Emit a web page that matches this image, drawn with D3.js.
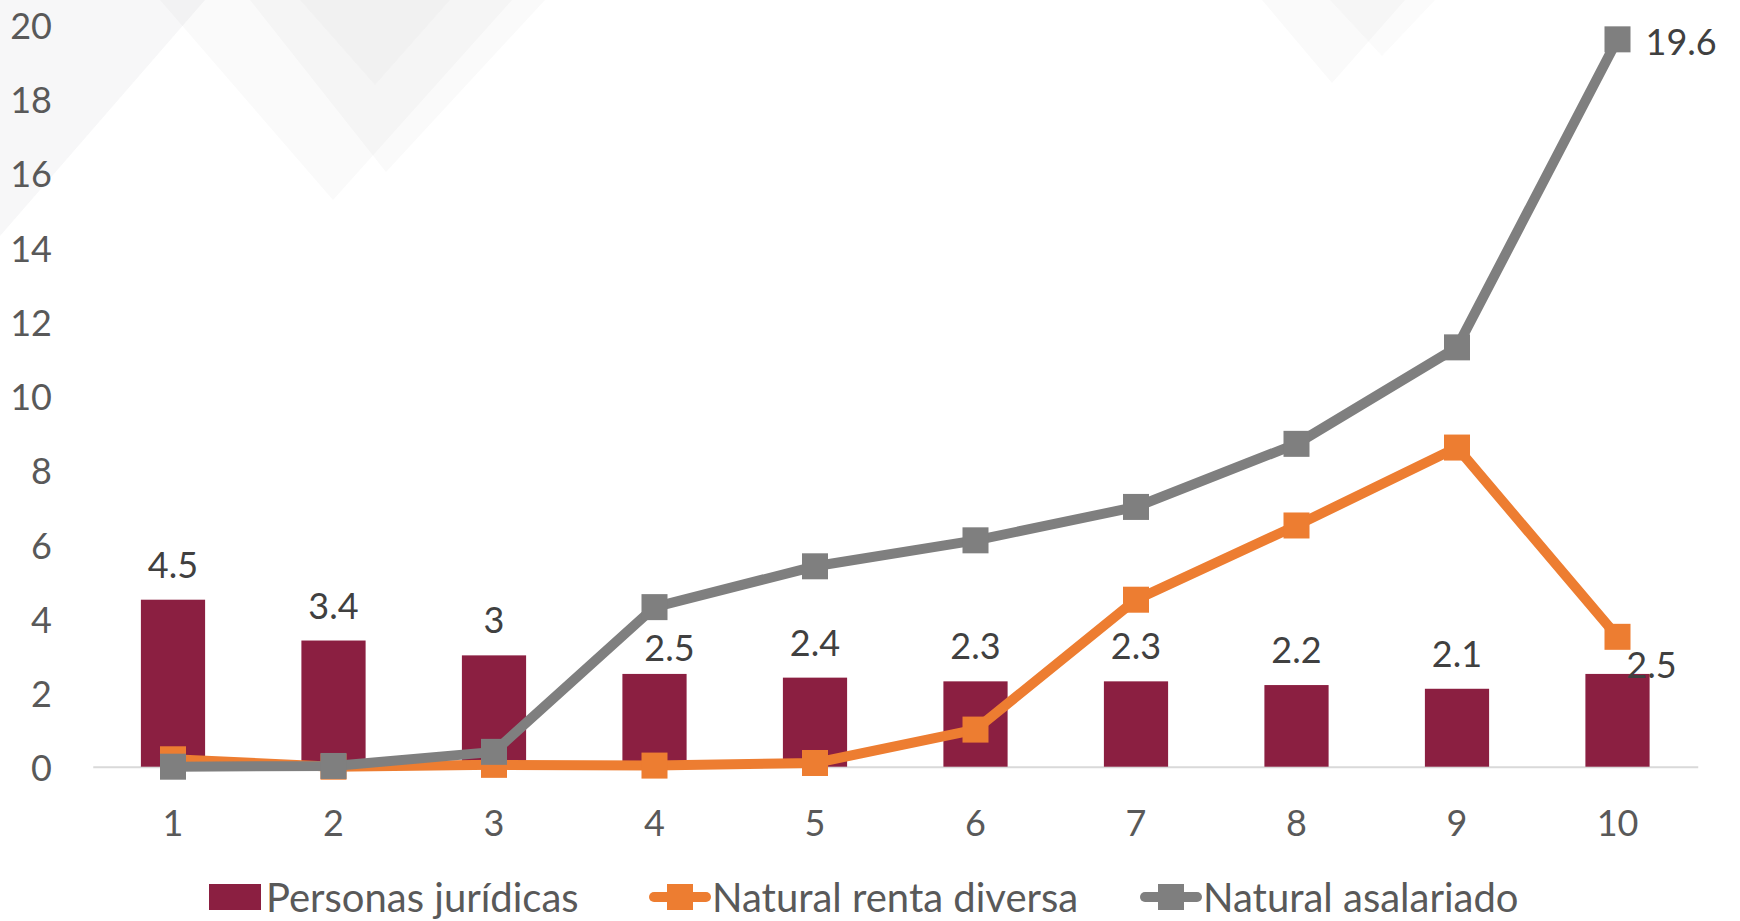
<!DOCTYPE html>
<html>
<head>
<meta charset="utf-8">
<script src="https://cdn.jsdelivr.net/npm/d3@7"></script>
<style>
  html, body { margin: 0; padding: 0; background: #ffffff; }
  svg { display: block; }
  text { font-family: Lato, "Open Sans", sans-serif; }
</style>
</head>
<body>
<svg id="chart" width="1740" height="921"></svg>
<script>
// ---------------- data ----------------
const categories = ["1", "2", "3", "4", "5", "6", "7", "8", "9", "10"];
const personasJuridicas = [4.5, 3.4, 3.0, 2.5, 2.4, 2.3, 2.3, 2.2, 2.1, 2.5];
const naturalRentaDiversa = [0.2, 0.0, 0.05, 0.03, 0.1, 1.0, 4.5, 6.5, 8.6, 3.5];
const naturalAsalariado = [0.0, 0.02, 0.4, 4.3, 5.4, 6.1, 7.0, 8.7, 11.3, 19.6];
const yTicks = [0, 2, 4, 6, 8, 10, 12, 14, 16, 18, 20];
const seriesNames = ["Personas jurídicas", "Natural renta diversa", "Natural asalariado"];
const asalariadoLabelIndex = [9];

// ---------------- style ----------------
const colBar = "#8B1F41", colOrange = "#ED7D31", colGray = "#7F7F7F";
const colAxisText = "#595959", colLabel = "#404040";
const fontSize = 36, legendFontSize = 40;
const labelNudge = { 3: [15, 9], 9: [34, 26] }; // manual nudges of bar labels

const svg = d3.select("#chart");

// faint decorative watermark chevrons
const wm = svg.append("g");
const wmShapes = [
  { pts: [[0,0],[205,0],[0,236]], o: 0.035 },
  { pts: [[160,0],[333,200],[512,0]], o: 0.022 },
  { pts: [[250,0],[386,172],[545,0]], o: 0.022 },
  { pts: [[300,0],[375,85],[450,0]], o: 0.02 },
  { pts: [[1262,0],[1332,83],[1405,0]], o: 0.025 },
  { pts: [[1330,0],[1382,56],[1435,0]], o: 0.02 }
];
wmShapes.forEach(s => {
  wm.append("polygon")
    .attr("points", s.pts.map(p => p.join(",")).join(" "))
    .attr("fill", "#1a1a33").attr("fill-opacity", s.o);
});

// ---------------- scales ----------------
const x = d3.scaleBand().domain(categories).range([92.75, 1697.75])
  .paddingInner(0.6).paddingOuter(0.3);
const y = d3.scaleLinear().domain([0, 20]).range([766.7, 24.5]);
const cx = c => x(c) + x.bandwidth() / 2;

// ---------------- axes ----------------
const yAxis = svg.append("g").attr("transform", "translate(52,0)")
  .call(d3.axisLeft(y).tickValues(yTicks).tickSize(0).tickPadding(0).tickFormat(d3.format("d")));
yAxis.select(".domain").remove();
yAxis.selectAll("text")
  .attr("font-size", fontSize).attr("font-family", "Lato, sans-serif")
  .attr("fill", colAxisText).attr("dy", null).attr("dominant-baseline", "central");

const xAxis = svg.append("g").attr("transform", `translate(0,${y(0)})`)
  .call(d3.axisBottom(x).tickSize(0).tickSizeOuter(0).tickPadding(0));
xAxis.select(".domain").attr("stroke", "#D9D9D9").attr("stroke-width", 2);
xAxis.selectAll("text")
  .attr("font-size", fontSize).attr("font-family", "Lato, sans-serif")
  .attr("fill", colAxisText).attr("dy", null).attr("y", 55.5)
  .attr("dominant-baseline", "central");

// ---------------- bars ----------------
svg.append("g").selectAll("rect").data(personasJuridicas).join("rect")
  .attr("x", (d, i) => x(categories[i]))
  .attr("y", d => y(d))
  .attr("width", x.bandwidth())
  .attr("height", d => y(0) - y(d))
  .attr("fill", colBar);

// ---------------- lines ----------------
const markerSize = 26;
function drawSeries(values, color) {
  const g = svg.append("g");
  const line = d3.line().x((d, i) => cx(categories[i])).y(d => y(d));
  g.append("path").datum(values).attr("d", line)
    .attr("fill", "none").attr("stroke", color).attr("stroke-width", 10)
    .attr("stroke-linejoin", "round").attr("stroke-linecap", "round");
  g.selectAll("rect").data(values).join("rect")
    .attr("x", (d, i) => cx(categories[i]) - markerSize / 2)
    .attr("y", d => y(d) - markerSize / 2)
    .attr("width", markerSize).attr("height", markerSize)
    .attr("fill", color);
}
drawSeries(naturalRentaDiversa, colOrange);
drawSeries(naturalAsalariado, colGray);

// ---------------- data labels ----------------
svg.append("g").selectAll("text").data(personasJuridicas).join("text")
  .attr("x", (d, i) => cx(categories[i]) + (labelNudge[i] ? labelNudge[i][0] : 0))
  .attr("y", (d, i) => y(d) - 36 + (labelNudge[i] ? labelNudge[i][1] : 0))
  .attr("text-anchor", "middle").attr("dominant-baseline", "central")
  .attr("font-size", fontSize).attr("fill", colLabel)
  .text(d => d3.format("~g")(d));

svg.append("g").selectAll("text").data(asalariadoLabelIndex).join("text")
  .attr("x", i => cx(categories[i]) + markerSize / 2 + 15)
  .attr("y", i => y(naturalAsalariado[i]) + 2)
  .attr("dominant-baseline", "central")
  .attr("font-size", fontSize).attr("fill", colLabel)
  .text(i => d3.format("~g")(naturalAsalariado[i]));

// ---------------- legend ----------------
const legY = 897;
const leg = svg.append("g");
// bar key
leg.append("rect").attr("x", 209).attr("y", legY - 13).attr("width", 52).attr("height", 26).attr("fill", colBar);
leg.append("text").attr("x", 266).attr("y", legY).attr("dominant-baseline", "central")
  .attr("font-size", legendFontSize).attr("fill", colAxisText).text(seriesNames[0]);
// line keys
[[649, colOrange, seriesNames[1]], [1140, colGray, seriesNames[2]]].forEach(([x0, c, name]) => {
  leg.append("line").attr("x1", x0 + 5).attr("x2", x0 + 57).attr("y1", legY).attr("y2", legY)
    .attr("stroke", c).attr("stroke-width", 10).attr("stroke-linecap", "round");
  leg.append("rect").attr("x", x0 + 31 - 13).attr("y", legY - 13).attr("width", 26).attr("height", 26).attr("fill", c);
  leg.append("text").attr("x", x0 + 63).attr("y", legY).attr("dominant-baseline", "central")
    .attr("font-size", legendFontSize).attr("fill", colAxisText).text(name);
});
</script>
</body>
</html>
